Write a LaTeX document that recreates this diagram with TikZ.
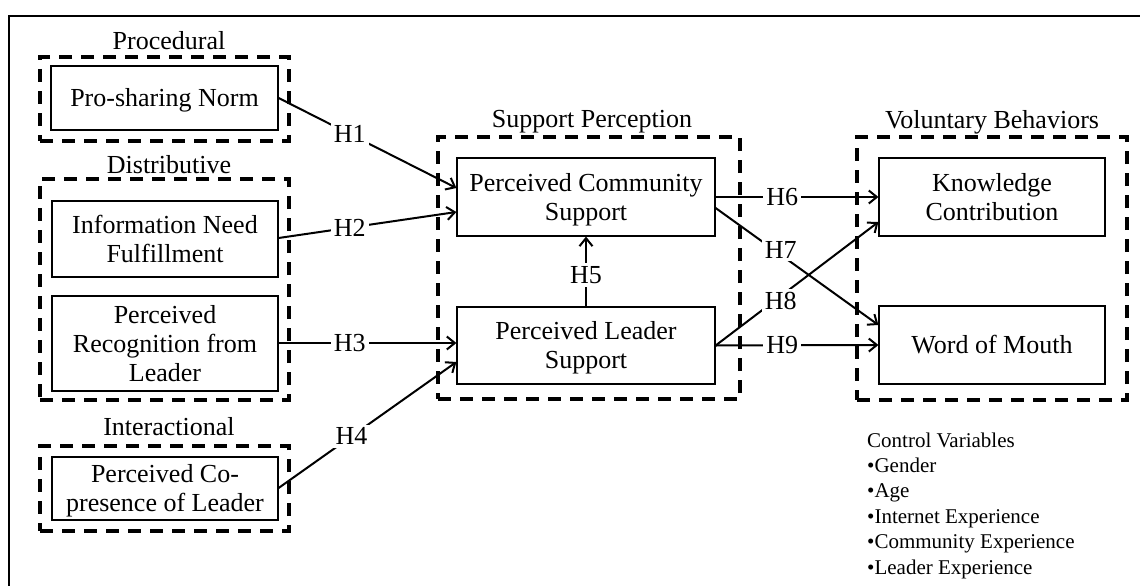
\documentclass[tikz,border=0pt]{standalone}
\usepackage{fontspec}
\setmainfont{Liberation Serif}
\usetikzlibrary{arrows.meta}
\newcommand\lowr{\rule{0pt}{23.5pt}}
\begin{document}
\begin{tikzpicture}[x=1pt,y=-1pt,
  box/.style={draw, line width=1.2pt, align=center, font=\fontsize{26}{29}\selectfont, inner sep=0pt},
  grp/.style={draw, line width=4pt, dash pattern=on 13pt off 9pt, inner sep=0pt},
  ttl/.style={font=\fontsize{26}{29}\selectfont, inner sep=0pt, anchor=base},
  hyp/.style={fill=white, font=\fontsize{26}{29}\selectfont, inner sep=3pt},
  arr/.style={line width=2pt, -{Straight Barb[length=8pt,width=13pt,line width=2pt]}}
]
\useasboundingbox (0,0) rectangle (1140,586);
% frame
\draw[line width=2pt] (9,586) -- (9,16) -- (1140,16);

% groups
\node[grp, minimum width=249pt, minimum height=84pt] (gproc) at (164.5,99) {};
\node[grp, minimum width=249pt, minimum height=221pt] (gdist) at (164.5,289.5) {};
\node[grp, minimum width=249pt, minimum height=85pt] (ginter) at (164.5,488.5) {};
\node[grp, minimum width=302pt, minimum height=262pt] (gsupp) at (589,268) {};
\node[grp, minimum width=270pt, minimum height=263pt] (gvol) at (992,268.5) {};

% group titles
\node[ttl] (tproc) at (169,50) {Procedural};
\node[ttl] (tdist) at (169,173) {Distributive};
\node[ttl] (tinter) at (169,435) {Interactional};
\node[ttl] (tsupp) at (592,127) {Support Perception};
\node[ttl] (tvol) at (992,128) {Voluntary Behaviors};

% boxes
\node[box, minimum width=227pt, minimum height=64pt] (psn) at (164.5,98) {\lowr Pro-sharing Norm};
\node[box, minimum width=226pt, minimum height=76pt] (inf) at (165,239) {Information Need\\Fulfillment};
\node[box, minimum width=226pt, minimum height=95pt] (rec) at (165,343.5) {Perceived\\Recognition from\\Leader};
\node[box, minimum width=226pt, minimum height=63pt] (cop) at (165,488.5) {\lowr Perceived Co-\\presence of Leader};
\node[box, minimum width=258pt, minimum height=78pt] (pcs) at (586,197) {\lowr Perceived Community\\Support};
\node[box, minimum width=258pt, minimum height=77pt] (pls) at (586,345.5) {\lowr Perceived Leader\\Support};
\node[box, minimum width=226pt, minimum height=78pt] (kc) at (992,197) {Knowledge\\Contribution};
\node[box, minimum width=226pt, minimum height=78pt] (wom) at (992,345) {Word of Mouth};

% hypotheses
\draw[arr] (psn.east) -- node[hyp,pos=0.4]{H1} ([yshift=9pt]pcs.west);
\draw[arr] ([yshift=1pt]inf.east) -- node[hyp,pos=0.4]{H2} ([yshift=-15pt]pcs.west);
\draw[arr] ([yshift=0.5pt]rec.east) -- node[hyp,pos=0.4]{H3} ([yshift=2.5pt]pls.west);
\draw[arr] ([yshift=0.5pt]cop.east) -- node[hyp,pos=0.41]{H4} ([yshift=-16.5pt]pls.west);
\draw[arr] (pls.north) -- node[hyp,pos=0.45]{H5} (pcs.south);
\draw[arr] (pcs.east) -- node[hyp,pos=0.41]{H6} (kc.west);
\draw[arr] ([yshift=-11pt]pcs.east) -- node[hyp,pos=0.4,yshift=5pt]{H7} ([yshift=20pt]wom.west);
\draw[arr] (pls.east) -- node[hyp,pos=0.4,yshift=-5pt]{H8} ([yshift=-25pt]kc.west);
\draw[arr] (pls.east) -- node[hyp,pos=0.41]{H9} (wom.west);

% control variables
\node[anchor=base west, align=left, font=\fontsize{21}{25.4}\selectfont, inner sep=0pt] (ctrl) at (867,574)
  {Control Variables\\•Gender\\•Age\\•Internet Experience\\•Community Experience\\•Leader Experience};
\end{tikzpicture}
\end{document}
